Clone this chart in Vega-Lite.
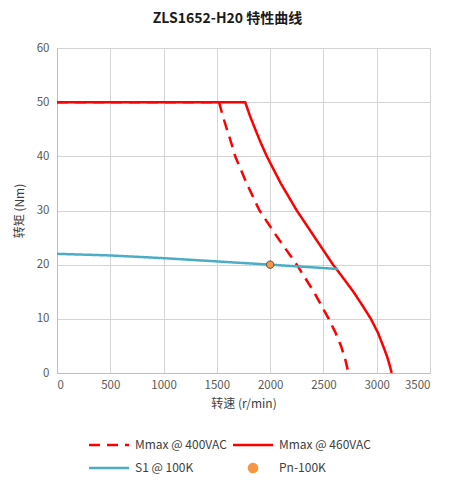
{
  "$schema": "https://vega.github.io/schema/vega-lite/v6.json",
  "autosize": {"type": "none"},
  "width": 373,
  "height": 325,
  "padding": {"left": 57, "top": 48, "right": 20, "bottom": 113},
  "background": "white",
  "config": {
    "font": "Noto Sans CJK SC",
    "view": {"stroke": null},
    "axis": {"labelFont": "Noto Sans CJK SC", "titleFont": "Noto Sans CJK SC", "labelColor": "#595959", "titleColor": "#404040", "labelFontSize": 11.5, "titleFontSize": 12, "titleFontWeight": "normal", "gridColor": "#d4d4d4", "domainColor": "#bfbfbf", "ticks": false}
  },
  "title": {"text": "ZLS1652-H20 特性曲线", "fontSize": 14, "fontWeight": "bold", "color": "#1a1a1a", "offset": 16, "dx": -16, "font": "Noto Sans CJK SC"},
  "data": {"values": [
    {"series": "Mmax @ 400VAC", "rpm": 0, "torque": 50},
    {"series": "Mmax @ 400VAC", "rpm": 1520, "torque": 50},
    {"series": "Mmax @ 400VAC", "rpm": 1555, "torque": 47.5},
    {"series": "Mmax @ 400VAC", "rpm": 1594, "torque": 45},
    {"series": "Mmax @ 400VAC", "rpm": 1635, "torque": 42.5},
    {"series": "Mmax @ 400VAC", "rpm": 1672, "torque": 40},
    {"series": "Mmax @ 400VAC", "rpm": 1780, "torque": 35},
    {"series": "Mmax @ 400VAC", "rpm": 1900, "torque": 30},
    {"series": "Mmax @ 400VAC", "rpm": 2070, "torque": 25},
    {"series": "Mmax @ 400VAC", "rpm": 2250, "torque": 20},
    {"series": "Mmax @ 400VAC", "rpm": 2410, "torque": 15},
    {"series": "Mmax @ 400VAC", "rpm": 2550, "torque": 10},
    {"series": "Mmax @ 400VAC", "rpm": 2612, "torque": 7.5},
    {"series": "Mmax @ 400VAC", "rpm": 2665, "torque": 5},
    {"series": "Mmax @ 400VAC", "rpm": 2705, "torque": 2.5},
    {"series": "Mmax @ 400VAC", "rpm": 2735, "torque": 0},
    {"series": "Mmax @ 460VAC", "rpm": 0, "torque": 50},
    {"series": "Mmax @ 460VAC", "rpm": 1766, "torque": 50},
    {"series": "Mmax @ 460VAC", "rpm": 1810, "torque": 47.5},
    {"series": "Mmax @ 460VAC", "rpm": 1860, "torque": 45},
    {"series": "Mmax @ 460VAC", "rpm": 1912, "torque": 42.5},
    {"series": "Mmax @ 460VAC", "rpm": 1969, "torque": 40},
    {"series": "Mmax @ 460VAC", "rpm": 2100, "torque": 35},
    {"series": "Mmax @ 460VAC", "rpm": 2250, "torque": 30},
    {"series": "Mmax @ 460VAC", "rpm": 2420, "torque": 25},
    {"series": "Mmax @ 460VAC", "rpm": 2590, "torque": 20},
    {"series": "Mmax @ 460VAC", "rpm": 2687, "torque": 17.5},
    {"series": "Mmax @ 460VAC", "rpm": 2781, "torque": 15},
    {"series": "Mmax @ 460VAC", "rpm": 2865, "torque": 12.5},
    {"series": "Mmax @ 460VAC", "rpm": 2945, "torque": 10},
    {"series": "Mmax @ 460VAC", "rpm": 3010, "torque": 7.5},
    {"series": "Mmax @ 460VAC", "rpm": 3060, "torque": 5},
    {"series": "Mmax @ 460VAC", "rpm": 3098, "torque": 3},
    {"series": "Mmax @ 460VAC", "rpm": 3125, "torque": 1.2},
    {"series": "Mmax @ 460VAC", "rpm": 3140, "torque": 0},
    {"series": "S1 @ 100K", "rpm": 0, "torque": 22},
    {"series": "S1 @ 100K", "rpm": 500, "torque": 21.7},
    {"series": "S1 @ 100K", "rpm": 1000, "torque": 21.2},
    {"series": "S1 @ 100K", "rpm": 1500, "torque": 20.6},
    {"series": "S1 @ 100K", "rpm": 2000, "torque": 20},
    {"series": "S1 @ 100K", "rpm": 2640, "torque": 19.2},
    {"series": "Pn-100K", "rpm": 2000, "torque": 20}
  ]},
  "encoding": {
    "x": {"field": "rpm", "type": "quantitative", "scale": {"domain": [0, 3500], "nice": false}, "axis": {"title": "转速 (r/min)", "format": "d", "values": [0, 500, 1000, 1500, 2000, 2500, 3000, 3500], "labelPadding": 6, "titlePadding": 8}},
    "y": {"field": "torque", "type": "quantitative", "scale": {"domain": [0, 60], "nice": false}, "axis": {"title": "转矩 (Nm)", "values": [0, 10, 20, 30, 40, 50, 60], "labelPadding": 8, "titlePadding": 10}},
    "color": {"field": "series", "type": "nominal", "sort": null, "scale": {"domain": ["Mmax @ 400VAC", "Mmax @ 460VAC", "S1 @ 100K", "Pn-100K"], "range": ["#ff0000", "#ff0000", "#4bacc6", "#f79646"]},
      "legend": {"title": null, "orient": "none", "legendX": 31, "legendY": 391, "direction": "horizontal", "columns": 2, "labelFontSize": 12, "labelColor": "#404040", "labelFont": "Noto Sans CJK SC", "symbolSize": 64, "symbolStrokeWidth": 2.5, "symbolOffset": 15, "rowPadding": 8, "columnPadding": 1, "labelOffset": 20}},
    "strokeDash": {"field": "series", "type": "nominal", "sort": null, "scale": {"domain": ["Mmax @ 400VAC", "Mmax @ 460VAC", "S1 @ 100K", "Pn-100K"], "range": [[11, 7], [1, 0], [1, 0], [1, 0]]}, "legend": {"title": null}},
    "shape": {"field": "series", "type": "nominal", "sort": null, "scale": {"domain": ["Mmax @ 400VAC", "Mmax @ 460VAC", "S1 @ 100K", "Pn-100K"], "range": ["M-5,0H5", "M-5,0H5", "M-5,0H5", "circle"]}, "legend": {"title": null}}
  },
  "layer": [
    {
      "transform": [{"filter": "datum.series !== 'Pn-100K'"}],
      "mark": {"type": "line", "strokeWidth": 2.5, "interpolate": "linear"},
      "encoding": {"shape": null}
    },
    {
      "transform": [{"filter": "datum.series === 'Pn-100K'"}],
      "mark": {"type": "point", "filled": true, "size": 55, "stroke": "#404040", "strokeWidth": 1, "opacity": 1}
    }
  ]
}
